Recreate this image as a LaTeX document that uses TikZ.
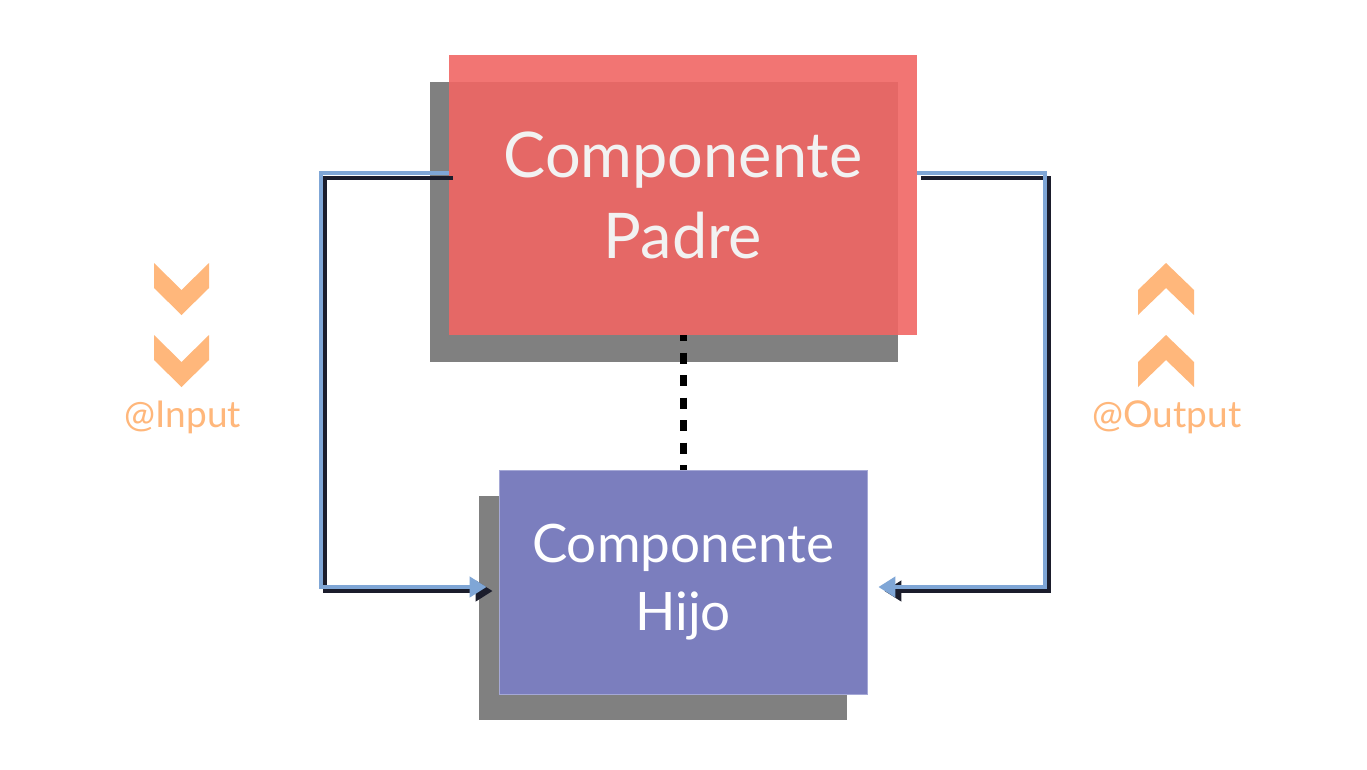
\documentclass[tikz,border=0pt]{standalone}
\usepackage{fontspec}
\setmainfont{Lato}
\usetikzlibrary{arrows.meta,shadows}
\definecolor{padrered}{RGB}{241,102,100}
\definecolor{hijoblue}{RGB}{123,126,190}
\definecolor{hijoedge}{RGB}{165,168,214}
\definecolor{shadowgray}{RGB}{128,128,128}
\definecolor{linkblue}{RGB}{127,166,214}
\definecolor{linkdark}{RGB}{27,29,44}
\definecolor{chevorange}{RGB}{255,183,123}
\definecolor{padretext}{RGB}{242,242,242}
\tikzset{
  compbox/.style={rectangle, inner sep=0pt, align=center},
  padrebox/.style={compbox, minimum width=468pt, minimum height=280pt,
    fill=padrered, fill opacity=0.9, text opacity=1, text=padretext,
    font=\fontsize{63}{81}\selectfont,
    general shadow={fill=shadowgray, fill opacity=1, shadow xshift=-19pt, shadow yshift=-27pt}},
  hijobox/.style={compbox, minimum width=368pt, minimum height=224pt,
    fill=hijoblue, draw=hijoedge, line width=0.8pt, text=white,
    font=\fontsize{53}{68}\selectfont,
    general shadow={fill=shadowgray, draw=none, shadow xshift=-20pt, shadow yshift=-26pt}},
  linkblue line/.style={draw=linkblue, line width=4.5pt,
    -{Triangle[length=17pt,width=20pt,fill=linkblue]}},
  linkdark line/.style={draw=linkdark, line width=4.5pt,
    -{Triangle[length=17pt,width=20pt,fill=linkdark]}},
  linkdash/.style={draw=black, line width=7pt, dash pattern=on 11pt off 11.5pt, dash phase=5pt},
  iolabel/.style={text=chevorange, font=\fontsize{37}{40}\selectfont, inner sep=0pt, anchor=base},
  chevdown/.pic={\fill[chevorange] (-27.5,0) -- (0,27) -- (27.5,0) -- (27.5,25) -- (0,52) -- (-27.5,25) -- cycle;},
  chevup/.pic={\fill[chevorange] (-28,52) -- (0,25) -- (28,52) -- (28,27) -- (0,0) -- (-28,27) -- cycle;}
}
\begin{document}
\begin{tikzpicture}[x=1pt,y=-1pt]
\useasboundingbox (0,0) rectangle (1367,769);
\fill[white] (0,0) rectangle (1367,769);

% boxes
\node[padrebox] (padre) at (683,195) {Componente\\Padre};
\node[hijobox] (hijo) at (683,582) {Componente\\Hijo};

% dotted link
\draw[linkdash] (padre.south) -- (hijo.north);

% anchor points of connectors
\coordinate (pL) at ([yshift=22pt]padre.west);
\coordinate (pR) at ([yshift=22pt]padre.east);
\coordinate (hL) at ([xshift=-12pt,yshift=-5pt]hijo.west);
\coordinate (hR) at ([xshift=11pt,yshift=-5pt]hijo.east);
\coordinate (hLd) at ([xshift=-6pt,yshift=-9pt]hijo.west);
\coordinate (hRd) at ([xshift=17pt,yshift=-9pt]hijo.east);

% left connector (@Input)
\draw[linkdark line] ([xshift=4pt,yshift=-5pt]pL) -- ++(-128,0) |- (hLd);
\draw[linkblue line] (pL) -- ++(-128,0) |- (hL);

% right connector (@Output)
\draw[linkdark line] ([xshift=4pt,yshift=-5pt]pR) -- ++(128,0) |- (hRd);
\draw[linkblue line] (pR) -- ++(128,0) |- (hR);

% chevrons
\pic (inchev1) at (181.5,263) {chevdown};
\pic (inchev2) at (181.5,335) {chevdown};
\pic (outchev1) at (1166,263) {chevup};
\pic (outchev2) at (1166,335) {chevup};

% labels
\node[iolabel] (inlabel) at (183,427) {@Input};
\node[iolabel] (outlabel) at (1167,427) {@Output};
\end{tikzpicture}
\end{document}
